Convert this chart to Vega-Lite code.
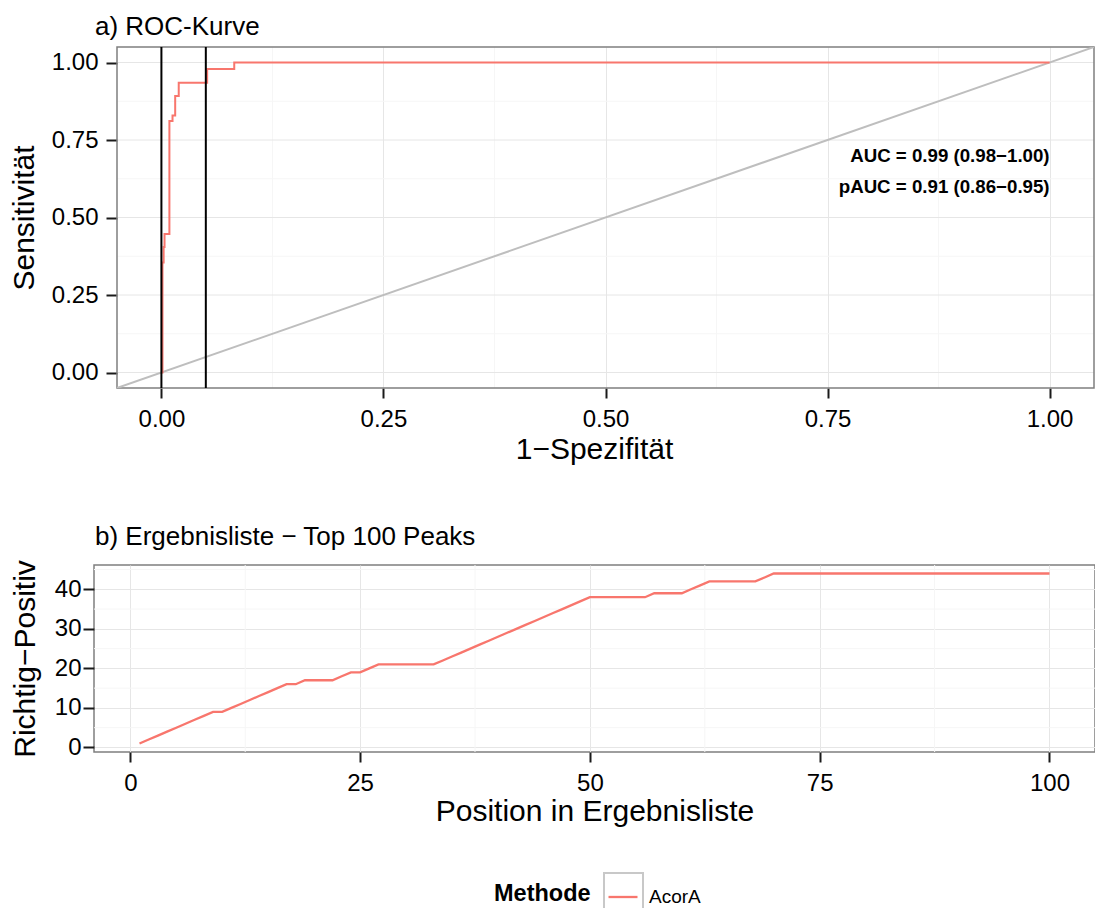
{
  "$schema": "https://vega.github.io/schema/vega-lite/v6.json",
  "padding": {"left": 9, "top": 14, "right": 0, "bottom": 0},
  "spacing": 58,
  "config": {
    "font": "Liberation Sans",
    "view": {"stroke": "#7f7f7f", "strokeWidth": 1.5},
    "axis": {
      "labelFont": "Liberation Sans", "labelFontSize": 24, "labelColor": "#000",
      "tickColor": "#1a1a1a", "tickWidth": 2, "tickSize": 10,
      "domain": false, "gridColor": "#e6e6e6", "gridWidth": 1,
      "titleFont": "Liberation Sans", "titleFontSize": 30, "titleFontWeight": "normal", "titleColor": "#000",
      "labelFlush": false, "labelOverlap": false
    },
    "title": {"font": "Liberation Sans", "fontSize": 26, "fontWeight": "normal", "color": "#000"}
  },
  "vconcat": [
    {
      "width": 1000,
      "height": 341,
      "view": {"stroke": null},
      "title": {"text": "a) ROC-Kurve", "anchor": "start", "frame": "group", "dx": 1, "offset": -15, "baseline": "alphabetic"},
      "layer": [
        {
          "data": {"values": [{"fpr": 0.125}, {"fpr": 0.375}, {"fpr": 0.625}, {"fpr": 0.875}]},
          "mark": {"type": "rule", "color": "#f6f6f6", "strokeWidth": 1},
          "encoding": {
            "x": {"field": "fpr", "type": "quantitative", "scale": {"domain": [-0.0759, 1.05], "nice": false, "zero": false},
                  "axis": {"values": [0, 0.25, 0.5, 0.75, 1], "format": ".2f", "title": "1−Spezifität", "labelPadding": 9, "titlePadding": 3}}
          }
        },
        {
          "data": {"values": [{"tpr": 0.125}, {"tpr": 0.375}, {"tpr": 0.625}, {"tpr": 0.875}]},
          "mark": {"type": "rule", "color": "#f6f6f6", "strokeWidth": 1},
          "encoding": {
            "y": {"field": "tpr", "type": "quantitative", "scale": {"domain": [-0.05, 1.05], "nice": false, "zero": false},
                  "axis": {"values": [0, 0.25, 0.5, 0.75, 1], "format": ".2f", "title": "Sensitivität", "tickSize": 11, "labelPadding": 8, "titlePadding": 12, "offset": -23, "grid": false}},
            "x": {"datum": -0.05},
            "x2": {"datum": 1.05}
          }
        },
        {
          "data": {"values": [{"tpr": 0}, {"tpr": 0.25}, {"tpr": 0.5}, {"tpr": 0.75}, {"tpr": 1}]},
          "mark": {"type": "rule", "color": "#e6e6e6", "strokeWidth": 1},
          "encoding": {
            "y": {"field": "tpr", "type": "quantitative", "title": "Sensitivität"},
            "x": {"datum": -0.05},
            "x2": {"datum": 1.05}
          }
        },
        {
          "data": {"values": [{"fpr": -0.05, "fpr2": 1.05, "tpr": -0.05, "tpr2": 1.05}]},
          "mark": {"type": "rect", "fill": null, "fillOpacity": 0, "stroke": "#7f7f7f", "strokeWidth": 1.5},
          "encoding": {
            "x": {"field": "fpr", "type": "quantitative", "title": "1−Spezifität"},
            "x2": {"field": "fpr2"},
            "y": {"field": "tpr", "type": "quantitative", "title": "Sensitivität"},
            "y2": {"field": "tpr2"}
          }
        },
        {
          "data": {"values": [{"fpr": -0.05, "tpr": -0.05}, {"fpr": 1.05, "tpr": 1.05}]},
          "mark": {"type": "line", "color": "#bebebe", "strokeWidth": 2, "clip": true},
          "encoding": {
            "x": {"field": "fpr", "type": "quantitative", "title": "1−Spezifität"},
            "y": {"field": "tpr", "type": "quantitative", "title": "Sensitivität"}
          }
        },
        {
          "data": {"values": [
            {"i": 0, "fpr": 0, "tpr": 0},
            {"i": 1, "fpr": 0.0012, "tpr": 0},
            {"i": 2, "fpr": 0.0012, "tpr": 0.355},
            {"i": 3, "fpr": 0.0025, "tpr": 0.355},
            {"i": 4, "fpr": 0.0025, "tpr": 0.405},
            {"i": 5, "fpr": 0.0035, "tpr": 0.405},
            {"i": 6, "fpr": 0.0035, "tpr": 0.447},
            {"i": 7, "fpr": 0.009, "tpr": 0.447},
            {"i": 8, "fpr": 0.009, "tpr": 0.811},
            {"i": 9, "fpr": 0.0125, "tpr": 0.811},
            {"i": 10, "fpr": 0.0125, "tpr": 0.829},
            {"i": 11, "fpr": 0.0155, "tpr": 0.829},
            {"i": 12, "fpr": 0.0155, "tpr": 0.892},
            {"i": 13, "fpr": 0.0195, "tpr": 0.892},
            {"i": 14, "fpr": 0.0195, "tpr": 0.935},
            {"i": 15, "fpr": 0.0515, "tpr": 0.935},
            {"i": 16, "fpr": 0.0515, "tpr": 0.979},
            {"i": 17, "fpr": 0.082, "tpr": 0.979},
            {"i": 18, "fpr": 0.082, "tpr": 1.0},
            {"i": 19, "fpr": 1.0, "tpr": 1.0}
          ]},
          "mark": {"type": "line", "color": "#F8766D", "strokeWidth": 2},
          "encoding": {
            "x": {"field": "fpr", "type": "quantitative", "title": "1−Spezifität"},
            "y": {"field": "tpr", "type": "quantitative", "title": "Sensitivität"},
            "order": {"field": "i", "type": "quantitative"}
          }
        },
        {
          "data": {"values": [{"fpr": 0}, {"fpr": 0.05}]},
          "mark": {"type": "rule", "color": "#000", "strokeWidth": 2},
          "encoding": {"x": {"field": "fpr", "type": "quantitative", "title": "1−Spezifität"}}
        },
        {
          "data": {"values": [
            {"fpr": 1.0, "tpr": 0.70, "label": "AUC = 0.99 (0.98−1.00)"},
            {"fpr": 1.0, "tpr": 0.60, "label": "pAUC = 0.91 (0.86−0.95)"}
          ]},
          "mark": {"type": "text", "align": "right", "baseline": "middle", "fontSize": 18.7, "fontWeight": "bold", "color": "#000"},
          "encoding": {
            "x": {"field": "fpr", "type": "quantitative", "title": "1−Spezifität"},
            "y": {"field": "tpr", "type": "quantitative", "title": "Sensitivität"},
            "text": {"field": "label"}
          }
        }
      ]
    },
    {
      "width": 1001,
      "height": 187,
      "title": {"text": "b) Ergebnisliste − Top 100 Peaks", "anchor": "start", "frame": "group", "dx": 1, "offset": -11, "baseline": "alphabetic"},
      "layer": [
        {
          "data": {"values": [{"pos": 12.5}, {"pos": 37.5}, {"pos": 62.5}, {"pos": 87.5}]},
          "mark": {"type": "rule", "color": "#f6f6f6", "strokeWidth": 1},
          "encoding": {
            "x": {"field": "pos", "type": "quantitative", "scale": {"domain": [-3.95, 104.95], "nice": false, "zero": false},
                  "axis": {"values": [0, 25, 50, 75, 100], "title": "Position in Ergebnisliste", "labelPadding": 9, "titlePadding": 1}}
          }
        },
        {
          "data": {"values": [{"tp": 5}, {"tp": 15}, {"tp": 25}, {"tp": 35}, {"tp": 45}]},
          "mark": {"type": "rule", "color": "#f6f6f6", "strokeWidth": 1},
          "encoding": {
            "y": {"field": "tp", "type": "quantitative", "scale": {"domain": [-1.15, 46.15], "nice": false, "zero": false},
                  "axis": {"values": [0, 10, 20, 30, 40], "title": "Richtig−Positiv", "tickSize": 11, "labelPadding": 2, "titlePadding": 14}}
          }
        },
        {
          "data": {"values": [{"pos": 1, "tp": 1}]},
          "mark": {"type": "point", "opacity": 0},
          "encoding": {
            "x": {"field": "pos", "type": "quantitative", "title": "Position in Ergebnisliste"},
            "y": {"field": "tp", "type": "quantitative", "title": "Richtig−Positiv"},
            "shape": {"datum": "AcorA", "scale": {"range": ["square"]},
                      "legend": {"orient": "none", "legendX": 509, "legendY": 825, "title": null, "labelExpr": "''", "labelFontSize": 1, "labelOpacity": 0,
                                 "symbolType": "square", "symbolSize": 1521, "symbolStrokeColor": "#c8c8c8", "symbolFillColor": "transparent", "symbolStrokeWidth": 2, "symbolOpacity": 1}}
          }
        },
        {
          "data": {"values": [
            {"pos": 1, "tp": 1, "Methode": "AcorA"}, {"pos": 2, "tp": 2, "Methode": "AcorA"}, {"pos": 3, "tp": 3, "Methode": "AcorA"}, {"pos": 4, "tp": 4, "Methode": "AcorA"}, {"pos": 5, "tp": 5, "Methode": "AcorA"},
            {"pos": 6, "tp": 6, "Methode": "AcorA"}, {"pos": 7, "tp": 7, "Methode": "AcorA"}, {"pos": 8, "tp": 8, "Methode": "AcorA"}, {"pos": 9, "tp": 9, "Methode": "AcorA"}, {"pos": 10, "tp": 9, "Methode": "AcorA"},
            {"pos": 11, "tp": 10, "Methode": "AcorA"}, {"pos": 12, "tp": 11, "Methode": "AcorA"}, {"pos": 13, "tp": 12, "Methode": "AcorA"}, {"pos": 14, "tp": 13, "Methode": "AcorA"}, {"pos": 15, "tp": 14, "Methode": "AcorA"},
            {"pos": 16, "tp": 15, "Methode": "AcorA"}, {"pos": 17, "tp": 16, "Methode": "AcorA"}, {"pos": 18, "tp": 16, "Methode": "AcorA"}, {"pos": 19, "tp": 17, "Methode": "AcorA"}, {"pos": 20, "tp": 17, "Methode": "AcorA"},
            {"pos": 21, "tp": 17, "Methode": "AcorA"}, {"pos": 22, "tp": 17, "Methode": "AcorA"}, {"pos": 23, "tp": 18, "Methode": "AcorA"}, {"pos": 24, "tp": 19, "Methode": "AcorA"}, {"pos": 25, "tp": 19, "Methode": "AcorA"},
            {"pos": 26, "tp": 20, "Methode": "AcorA"}, {"pos": 27, "tp": 21, "Methode": "AcorA"}, {"pos": 28, "tp": 21, "Methode": "AcorA"}, {"pos": 29, "tp": 21, "Methode": "AcorA"}, {"pos": 30, "tp": 21, "Methode": "AcorA"},
            {"pos": 31, "tp": 21, "Methode": "AcorA"}, {"pos": 32, "tp": 21, "Methode": "AcorA"}, {"pos": 33, "tp": 21, "Methode": "AcorA"}, {"pos": 34, "tp": 22, "Methode": "AcorA"}, {"pos": 35, "tp": 23, "Methode": "AcorA"},
            {"pos": 36, "tp": 24, "Methode": "AcorA"}, {"pos": 37, "tp": 25, "Methode": "AcorA"}, {"pos": 38, "tp": 26, "Methode": "AcorA"}, {"pos": 39, "tp": 27, "Methode": "AcorA"}, {"pos": 40, "tp": 28, "Methode": "AcorA"},
            {"pos": 41, "tp": 29, "Methode": "AcorA"}, {"pos": 42, "tp": 30, "Methode": "AcorA"}, {"pos": 43, "tp": 31, "Methode": "AcorA"}, {"pos": 44, "tp": 32, "Methode": "AcorA"}, {"pos": 45, "tp": 33, "Methode": "AcorA"},
            {"pos": 46, "tp": 34, "Methode": "AcorA"}, {"pos": 47, "tp": 35, "Methode": "AcorA"}, {"pos": 48, "tp": 36, "Methode": "AcorA"}, {"pos": 49, "tp": 37, "Methode": "AcorA"}, {"pos": 50, "tp": 38, "Methode": "AcorA"},
            {"pos": 51, "tp": 38, "Methode": "AcorA"}, {"pos": 52, "tp": 38, "Methode": "AcorA"}, {"pos": 53, "tp": 38, "Methode": "AcorA"}, {"pos": 54, "tp": 38, "Methode": "AcorA"}, {"pos": 55, "tp": 38, "Methode": "AcorA"},
            {"pos": 56, "tp": 38, "Methode": "AcorA"}, {"pos": 57, "tp": 39, "Methode": "AcorA"}, {"pos": 58, "tp": 39, "Methode": "AcorA"}, {"pos": 59, "tp": 39, "Methode": "AcorA"}, {"pos": 60, "tp": 39, "Methode": "AcorA"},
            {"pos": 61, "tp": 40, "Methode": "AcorA"}, {"pos": 62, "tp": 41, "Methode": "AcorA"}, {"pos": 63, "tp": 42, "Methode": "AcorA"}, {"pos": 64, "tp": 42, "Methode": "AcorA"}, {"pos": 65, "tp": 42, "Methode": "AcorA"},
            {"pos": 66, "tp": 42, "Methode": "AcorA"}, {"pos": 67, "tp": 42, "Methode": "AcorA"}, {"pos": 68, "tp": 42, "Methode": "AcorA"}, {"pos": 69, "tp": 43, "Methode": "AcorA"}, {"pos": 70, "tp": 44, "Methode": "AcorA"},
            {"pos": 71, "tp": 44, "Methode": "AcorA"}, {"pos": 72, "tp": 44, "Methode": "AcorA"}, {"pos": 73, "tp": 44, "Methode": "AcorA"}, {"pos": 74, "tp": 44, "Methode": "AcorA"}, {"pos": 75, "tp": 44, "Methode": "AcorA"},
            {"pos": 76, "tp": 44, "Methode": "AcorA"}, {"pos": 77, "tp": 44, "Methode": "AcorA"}, {"pos": 78, "tp": 44, "Methode": "AcorA"}, {"pos": 79, "tp": 44, "Methode": "AcorA"}, {"pos": 80, "tp": 44, "Methode": "AcorA"},
            {"pos": 81, "tp": 44, "Methode": "AcorA"}, {"pos": 82, "tp": 44, "Methode": "AcorA"}, {"pos": 83, "tp": 44, "Methode": "AcorA"}, {"pos": 84, "tp": 44, "Methode": "AcorA"}, {"pos": 85, "tp": 44, "Methode": "AcorA"},
            {"pos": 86, "tp": 44, "Methode": "AcorA"}, {"pos": 87, "tp": 44, "Methode": "AcorA"}, {"pos": 88, "tp": 44, "Methode": "AcorA"}, {"pos": 89, "tp": 44, "Methode": "AcorA"}, {"pos": 90, "tp": 44, "Methode": "AcorA"},
            {"pos": 91, "tp": 44, "Methode": "AcorA"}, {"pos": 92, "tp": 44, "Methode": "AcorA"}, {"pos": 93, "tp": 44, "Methode": "AcorA"}, {"pos": 94, "tp": 44, "Methode": "AcorA"}, {"pos": 95, "tp": 44, "Methode": "AcorA"},
            {"pos": 96, "tp": 44, "Methode": "AcorA"}, {"pos": 97, "tp": 44, "Methode": "AcorA"}, {"pos": 98, "tp": 44, "Methode": "AcorA"}, {"pos": 99, "tp": 44, "Methode": "AcorA"}, {"pos": 100, "tp": 44, "Methode": "AcorA"}
          ]},
          "mark": {"type": "line", "strokeWidth": 2.3},
          "encoding": {
            "x": {"field": "pos", "type": "quantitative", "title": "Position in Ergebnisliste"},
            "y": {"field": "tp", "type": "quantitative", "title": "Richtig−Positiv"},
            "color": {"field": "Methode", "type": "nominal", "scale": {"range": ["#F8766D"]},
                      "legend": {"orient": "none", "legendX": 400, "legendY": 834, "direction": "horizontal", "titleOrient": "left",
                                 "titleFontSize": 23.5, "titleFontWeight": "bold", "titleColor": "#000", "titleFont": "Liberation Sans",
                                 "labelFontSize": 19, "labelColor": "#000", "labelFont": "Liberation Sans",
                                 "symbolType": "stroke", "symbolSize": 841, "symbolStrokeWidth": 2.3, "titlePadding": 16, "labelOffset": 10}}
          }
        }
      ]
    }
  ]
}
